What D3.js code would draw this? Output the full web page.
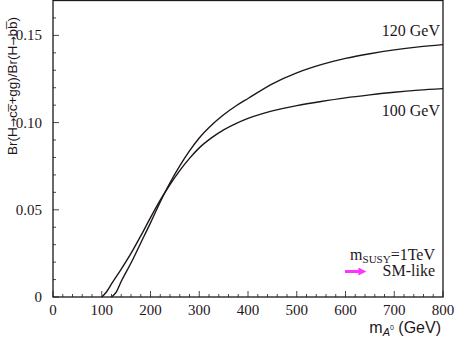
<!DOCTYPE html>
<html>
<head>
<meta charset="utf-8">
<script src="https://cdn.jsdelivr.net/npm/d3@7"></script>
<style>
  body { margin: 0; background: #fff; }
</style>
</head>
<body>
<script>
// data
var mA100 = [100, 110, 120, 140, 160, 180, 200, 220, 240, 260, 280, 300, 325, 350, 375, 400, 450, 500, 550, 600, 650, 700, 750, 800];
var br100 = [0, 0.003, 0.0075, 0.016, 0.025, 0.035, 0.0455, 0.0555, 0.0645, 0.0725, 0.0795, 0.0855, 0.0912, 0.0958, 0.0994, 0.1024, 0.1067, 0.1097, 0.1121, 0.1142, 0.1159, 0.1174, 0.1186, 0.1195];
var mA120 = [120, 130, 140, 160, 180, 200, 220, 240, 260, 280, 300, 325, 350, 375, 400, 450, 500, 550, 600, 650, 700, 750, 800];
var br120 = [0, 0.003, 0.009, 0.0195, 0.031, 0.0425, 0.0545, 0.0655, 0.0752, 0.0838, 0.0912, 0.0985, 0.1045, 0.1095, 0.1138, 0.1222, 0.1285, 0.1332, 0.1368, 0.1395, 0.1417, 0.1434, 0.1447];
var xTicks = [0, 100, 200, 300, 400, 500, 600, 700, 800];
var yTicks = [0, 0.05, 0.10, 0.15];
var yTickLabels = ["0", "0.05", "0.10", "0.15"];

var width = 457, height = 339,
    plotLeft = 53, plotRight = 443, plotTop = 0.5, plotBottom = 297;
var ink = "#1e161c";

var svg = d3.select("body").append("svg")
    .attr("width", width)
    .attr("height", height);

var x = d3.scaleLinear().domain([0, 800]).range([plotLeft, plotRight]);
var y = d3.scaleLinear().domain([0, 0.17]).range([plotBottom, plotTop]);

// frame
svg.append("rect")
    .attr("x", plotLeft).attr("y", plotTop)
    .attr("width", plotRight - plotLeft).attr("height", plotBottom - plotTop)
    .style("fill", "none").style("stroke", ink).style("stroke-width", 1.3);

// ticks, pointing inward
var g = svg.append("g").style("stroke", ink).style("stroke-width", 0.8);
d3.range(0, 801, 20).forEach(function (v) {
    var len = (v % 100 == 0) ? 6 : 3;
    g.append("line").attr("x1", x(v)).attr("x2", x(v))
        .attr("y1", plotBottom).attr("y2", plotBottom - len);
});
d3.range(0, 17).forEach(function (i) {
    var v = i / 100, len = (i % 5 == 0) ? 6 : 3;
    g.append("line").attr("x1", plotLeft).attr("x2", plotLeft + len)
        .attr("y1", y(v)).attr("y2", y(v));
});

var serif = "'Liberation Serif', 'Times New Roman', serif";
var sans = "'Liberation Sans', Arial, sans-serif";

svg.selectAll(".xl").data(xTicks).enter().append("text")
    .attr("x", function (d) { return x(d); })
    .attr("y", 315)
    .attr("text-anchor", "middle")
    .style("font-family", serif).style("font-size", "15px").style("fill", ink)
    .text(function (d) { return d; });

svg.selectAll(".yl").data(yTicks).enter().append("text")
    .attr("x", 42)
    .attr("y", function (d) { return y(d) + 5; })
    .attr("text-anchor", "end")
    .style("font-family", serif).style("font-size", "15px").style("fill", ink)
    .text(function (d, i) { return yTickLabels[i]; });

// curves
var line = d3.line()
    .x(function (d) { return x(d[0]); })
    .y(function (d) { return y(d[1]); })
    .curve(d3.curveMonotoneX);

[[mA100, br100], [mA120, br120]].forEach(function (s) {
    svg.append("path")
        .attr("d", line(d3.zip(s[0], s[1])))
        .style("fill", "none").style("stroke", ink).style("stroke-width", 1.4);
});

// curve labels
svg.append("text").attr("x", 440).attr("y", 36).attr("text-anchor", "end")
    .style("font-family", serif).style("font-size", "16px").style("fill", ink)
    .text("120 GeV");
svg.append("text").attr("x", 440).attr("y", 116).attr("text-anchor", "end")
    .style("font-family", serif).style("font-size", "16px").style("fill", ink)
    .text("100 GeV");

// mSUSY note
var note = svg.append("text").attr("x", 435).attr("y", 260).attr("text-anchor", "end")
    .style("font-family", serif).style("font-size", "16px").style("fill", ink);
note.append("tspan").text("m");
note.append("tspan").attr("dy", 3).style("font-size", "11px").text("SUSY");
note.append("tspan").attr("dy", -3).text("=1TeV");

svg.append("text").attr("x", 435).attr("y", 276).attr("text-anchor", "end")
    .style("font-family", serif).style("font-size", "16px").style("fill", ink)
    .text("SM-like");

svg.append("defs").append("marker")
    .attr("id", "arr").attr("viewBox", "0 0 10 10")
    .attr("refX", 2).attr("refY", 5)
    .attr("markerUnits", "userSpaceOnUse")
    .attr("markerWidth", 9).attr("markerHeight", 8)
    .attr("orient", "auto")
    .append("path").attr("d", "M0,0L10,5L0,10z").style("fill", "#ff33ff");
svg.append("line")
    .attr("x1", 345).attr("x2", 360).attr("y1", 271.5).attr("y2", 271.5)
    .style("stroke", "#ff33ff").style("stroke-width", 3)
    .attr("marker-end", "url(#arr)");

// axis titles
var xt = svg.append("text").attr("x", 441).attr("y", 333).attr("text-anchor", "end")
    .style("font-family", sans).style("font-size", "16px").style("fill", ink);
xt.append("tspan").text("m");
xt.append("tspan").attr("dy", 3).style("font-size", "11px").style("font-style", "italic").text("A");
xt.append("tspan").attr("dy", -6).style("font-size", "7px").text("0");
xt.append("tspan").attr("dy", 3).text(" (GeV)");

var yt = svg.append("text")
    .attr("transform", "translate(17,86) rotate(-90)")
    .attr("text-anchor", "middle")
    .style("font-family", sans).style("font-size", "13.5px").style("fill", ink);
yt.append("tspan").text("Br(H");
yt.append("tspan").style("font-family", "'DejaVu Sans', sans-serif").style("font-size", "11px").text("\u2192");
yt.append("tspan").text("cc\u0305+gg)/Br(H");
yt.append("tspan").style("font-family", "'DejaVu Sans', sans-serif").style("font-size", "11px").text("\u2192");
yt.append("tspan").text("bb\u0305)");
</script>
</body>
</html>
